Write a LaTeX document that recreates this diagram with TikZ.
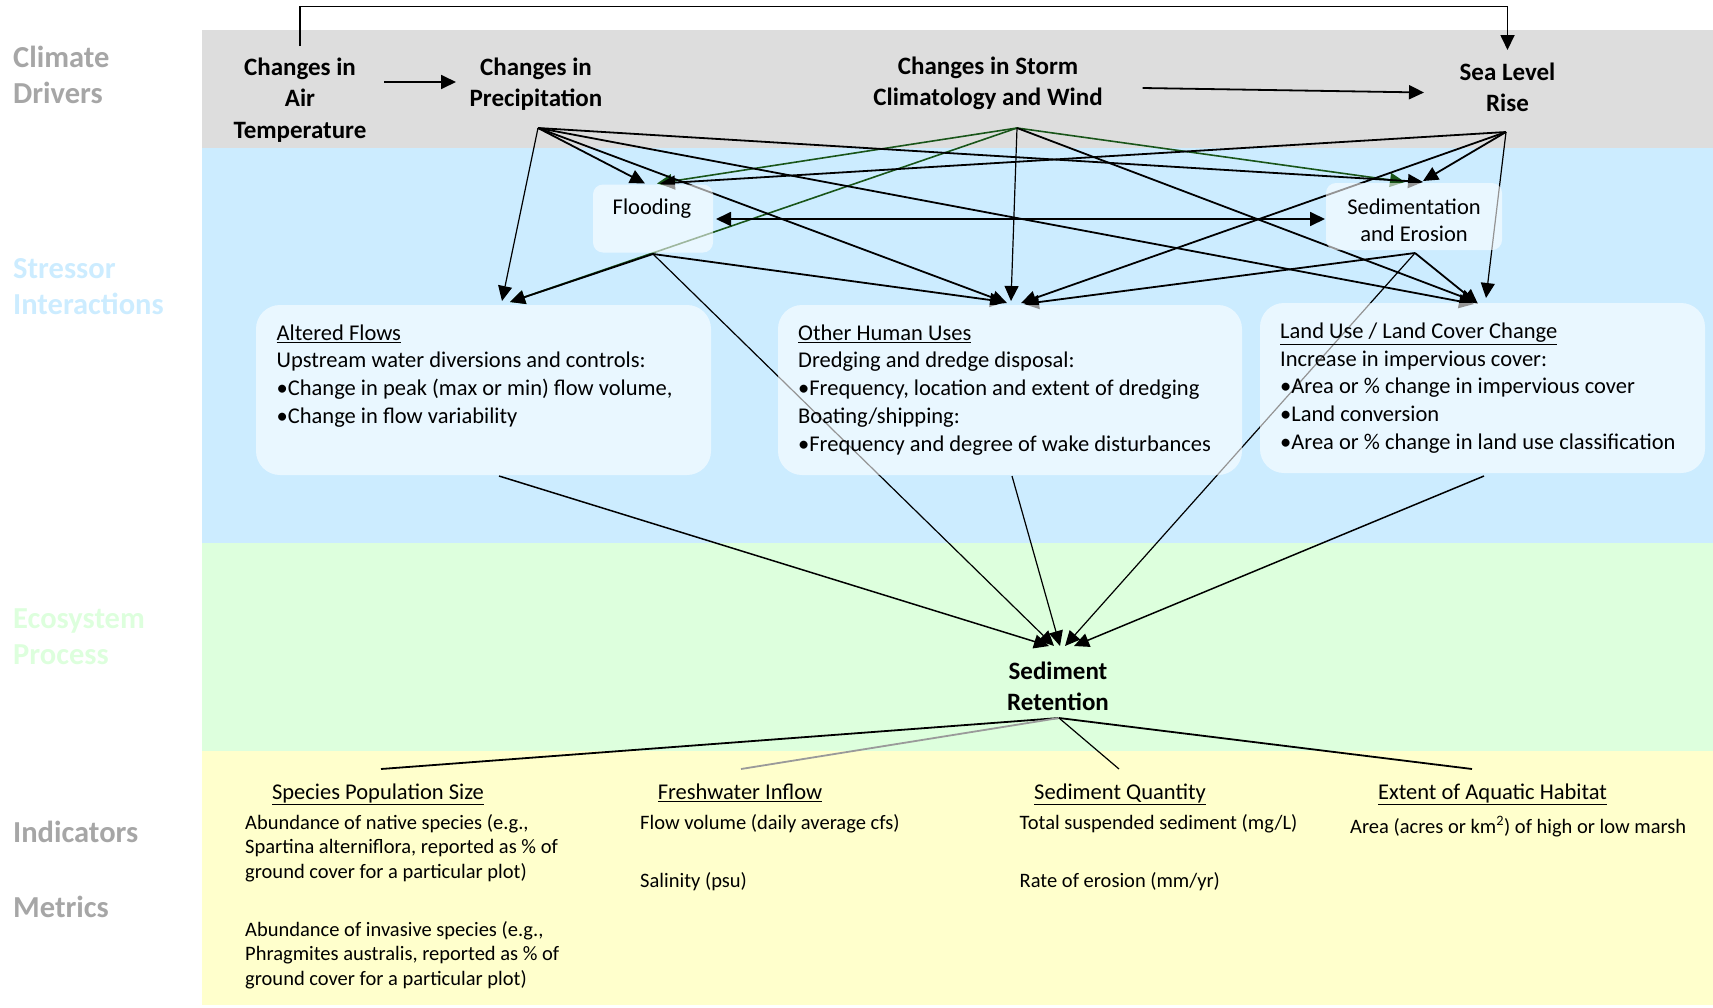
\documentclass[tikz,border=0pt]{standalone}
\usepackage{fontspec}
\setmainfont{Carlito}
\usetikzlibrary{arrows.meta}

\definecolor{bandgrey}{HTML}{DDDDDD}
\definecolor{bandblue}{HTML}{CCECFF}
\definecolor{bandgreen}{HTML}{DDFFDD}
\definecolor{bandyellow}{HTML}{FFFFCC}
\definecolor{labelgrey}{HTML}{A6A6A6}
\definecolor{linkgreen}{RGB}{25,85,25}
\definecolor{linkgrey}{HTML}{9A9A9A}

\newcommand\lblfont{\fontsize{30.5}{36}\selectfont\bfseries}
\newcommand\drvfont{\fontsize{25}{31.5}\selectfont\bfseries}
\newcommand\stxfont{\fontsize{22.5}{27.7}\selectfont}
\newcommand\indhfont{\fontsize{22.5}{27}\selectfont}
\newcommand\indbfont{\fontsize{20.5}{24.6}\selectfont}

\begin{document}
\begin{tikzpicture}[x=1pt,y=-1pt,
  tip/.style={-{Triangle[length=15pt,width=14pt]}},
  link/.style={tip,line width=1.8pt,draw=black},
  thinlink/.style={tip,line width=1.2pt,draw=black},
  greenlink/.style={tip,line width=1.6pt,draw=linkgreen},
  plainline/.style={line width=1.8pt,draw=black},
  band/.style={font=\lblfont,align=left,anchor=north west,inner sep=0},
  driver/.style={font=\drvfont,align=center,anchor=north,inner sep=0},
  stressbox/.style={fill=white,fill opacity=0.58,draw=none,inner sep=0,rounded corners=24pt},
  smallbox/.style={stressbox,rounded corners=10pt},
  boxtext/.style={font=\stxfont,align=left,anchor=north west,inner sep=0},
  indhead/.style={font=\indhfont,anchor=north,inner sep=0},
  indbody/.style={font=\indbfont,align=left,anchor=north west,inner sep=0},
]
\useasboundingbox (0,0) rectangle (1713,1007);

% background bands
\fill[bandgrey]   (202,29.5)  rectangle (1713,147.5);
\fill[bandblue]   (202,147.5) rectangle (1713,543);
\fill[bandgreen]  (202,543)   rectangle (1713,750.5);
\fill[bandyellow] (202,750.5) rectangle (1713,1005);

% band titles
\node[band,text=labelgrey] (lbl-climate) at (13,45.7) {Climate\\Drivers};
\node[band,text=bandblue] (lbl-stressor) at (13,258.7) {Stressor\\Interactions};
\node[band,text=bandgreen] (lbl-process) at (13,608.7) {Ecosystem\\Process};
\node[band,text=labelgrey] (lbl-indicators) at (13,820.5) {Indicators};
\node[band,text=labelgrey] (lbl-metrics) at (13,896) {Metrics};

% climate drivers
\node[driver] (airtemp) at (300,57.4) {Changes in\\Air\\Temperature};
\node[driver] (precip) at (536,57.4) {Changes in\\Precipitation};
\node[driver] (storm) at (988,56.4) {Changes in Storm\\Climatology and Wind};
\node[driver] (sealevel) at (1507.5,62.4) {Sea Level\\Rise};

% connector end points
\coordinate (airtemp-top) at (300,46);
\coordinate (loop-top) at (300,6.5);
\coordinate (sea-top) at (1507.5,50);
\coordinate (airtemp-right) at (384,82);
\coordinate (precip-left) at (456,82);
\coordinate (storm-right) at (1142.5,88);
\coordinate (sea-left) at (1424,92.5);

\coordinate (precip-out) at (538,128);
\coordinate (storm-out) at (1017,128);
\coordinate (sea-out) at (1506,132);
\coordinate (flood-out) at (653,254);
\coordinate (sed-out) at (1415,253);

\coordinate (flood-in-p) at (645,183.5);
\coordinate (flood-in-s) at (657,183.5);
\coordinate (flood-in-l) at (660,183.5);
\coordinate (flood-side) at (716,219);
\coordinate (sed-side) at (1325,219);
\coordinate (sed-in-s) at (1405,182);
\coordinate (sed-in-p) at (1423,182);
\coordinate (sed-in-l) at (1423,181);

\coordinate (alt-in-p) at (502,301);
\coordinate (alt-in-s) at (510,302);
\coordinate (hu-in-p) at (1007,303);
\coordinate (hu-in-f) at (1005,302);
\coordinate (hu-in-s) at (1011,301);
\coordinate (hu-in-l) at (1021,303);
\coordinate (hu-in-e) at (1024,304);
\coordinate (lu-in-p) at (1474,304);
\coordinate (lu-in-s) at (1476,302);
\coordinate (lu-in-e) at (1478,304);
\coordinate (lu-in-l) at (1486,298);

\coordinate (alt-out) at (499,476);
\coordinate (hu-out) at (1012,476);
\coordinate (lu-out) at (1484,476);

\coordinate (ret-in-a) at (1049,646);
\coordinate (ret-in-f) at (1054,646);
\coordinate (ret-in-h) at (1060,646);
\coordinate (ret-in-e) at (1065,646);
\coordinate (ret-in-l) at (1074,646);
\coordinate (ret-out) at (1059,718);

\coordinate (species-top) at (381,769);
\coordinate (fresh-top) at (741,769);
\coordinate (sedqty-top) at (1119,769);
\coordinate (habitat-top) at (1472,769);

% links between the drivers
\draw[link] (airtemp-top) -- (loop-top) -| (sea-top);
\draw[link] (airtemp-right) -- (precip-left);
\draw[link] (storm-right) -- (sea-left);

% storms and wind
\draw[greenlink] (storm-out) -- (flood-in-s);
\draw[greenlink] (storm-out) -- (alt-in-s);
\draw[greenlink] (storm-out) -- (sed-in-s);
\draw[thinlink] (storm-out) -- (hu-in-s);
\draw[link] (storm-out) -- (lu-in-s);

% precipitation
\draw[thinlink] (precip-out) -- (alt-in-p);
\draw[link] (precip-out) -- (flood-in-p);
\draw[link] (precip-out) -- (sed-in-p);
\draw[link] (precip-out) -- (hu-in-p);
\draw[link] (precip-out) -- (lu-in-p);

% flooding
\draw[link] (flood-out) -- (alt-in-s);
\draw[link] (flood-out) -- (hu-in-f);
\draw[thinlink] (flood-out) -- (ret-in-f);

% sea level rise
\draw[link] (sea-out) -- (flood-in-l);
\draw[link] (sea-out) -- (sed-in-l);
\draw[link] (sea-out) -- (hu-in-l);
\draw[thinlink] (sea-out) -- (lu-in-l);

% sedimentation and erosion
\draw[link] (sed-out) -- (hu-in-e);
\draw[link] (sed-out) -- (lu-in-e);
\draw[thinlink] (sed-out) -- (ret-in-e);
\draw[link,{Triangle[length=15pt,width=14pt]}-{Triangle[length=15pt,width=14pt]}] (flood-side) -- (sed-side);

% stressors into sediment retention
\draw[link,line width=1.5pt] (alt-out) -- (ret-in-a);
\draw[thinlink] (hu-out) -- (ret-in-h);
\draw[link,line width=1.5pt] (lu-out) -- (ret-in-l);

% retention to indicators
\draw[plainline] (ret-out) -- (species-top);
\draw[plainline,draw=linkgrey] (ret-out) -- (fresh-top);
\draw[plainline,line width=1.2pt] (ret-out) -- (sedqty-top);
\draw[plainline] (ret-out) -- (habitat-top);

% stressor boxes
\node[smallbox,minimum width=120pt,minimum height=68pt] (flood) at (653,218.5) {};
\node[smallbox,minimum width=176pt,minimum height=67pt] (sedero) at (1414,216.5) {};
\node[stressbox,minimum width=455pt,minimum height=170pt] (altered) at (483.5,390) {};
\node[stressbox,minimum width=464pt,minimum height=170pt] (humanuses) at (1010,390) {};
\node[stressbox,minimum width=445pt,minimum height=170pt] (landuse) at (1482.5,388) {};

\node[font=\stxfont,inner sep=0] (flood-text) at (652,209) {Flooding};
\node[font=\stxfont,align=center,anchor=north,inner sep=0] (sedero-text) at (1414,198.4) {Sedimentation\\and Erosion};

\node[boxtext] (altered-text) at (276.5,324.4) {\underline{Altered Flows}\\Upstream water diversions and controls:\\•Change in peak (max or min) flow volume,\\•Change in flow variability};
\node[boxtext] (humanuses-text) at (798,324.4) {\underline{Other Human Uses}\\Dredging and dredge disposal:\\•Frequency, location and extent of dredging\\Boating/shipping:\\•Frequency and degree of wake disturbances};
\node[boxtext] (landuse-text) at (1280,322.7) {\underline{Land Use / Land Cover Change}\\Increase in impervious cover:\\•Area or \% change in impervious cover\\•Land conversion\\•Area or \% change in land use classification};

% ecosystem process
\node[driver] (retention) at (1058,661.4) {Sediment\\Retention};

% indicators and metrics
\node[indhead] (species) at (378,783.7) {\underline{Species Population Size}};
\node[indhead] (fresh) at (740,783.7) {\underline{Freshwater Inflow}};
\node[indhead] (sedqty) at (1120,783.7) {\underline{Sediment Quantity}};
\node[indhead] (habitat) at (1492.5,783.7) {\underline{Extent of Aquatic Habitat}};

\node[indbody] (species-native) at (245,814) {Abundance of native species (e.g.,\\Spartina alterniflora, reported as \% of\\ground cover for a particular plot)};
\node[indbody] (species-invasive) at (245,921) {Abundance of invasive species (e.g.,\\Phragmites australis, reported as \% of\\ground cover for a particular plot)};
\node[indbody] (fresh-flow) at (640,814) {Flow volume (daily average cfs)};
\node[indbody] (fresh-sal) at (640,872) {Salinity (psu)};
\node[indbody] (sedqty-tss) at (1019.5,814) {Total suspended sediment (mg/L)};
\node[indbody] (sedqty-ero) at (1019.5,872) {Rate of erosion (mm/yr)};
\node[indbody] (habitat-area) at (1350,816) {Area (acres or km\textsuperscript{2}) of high or low marsh};
\end{tikzpicture}
\end{document}
